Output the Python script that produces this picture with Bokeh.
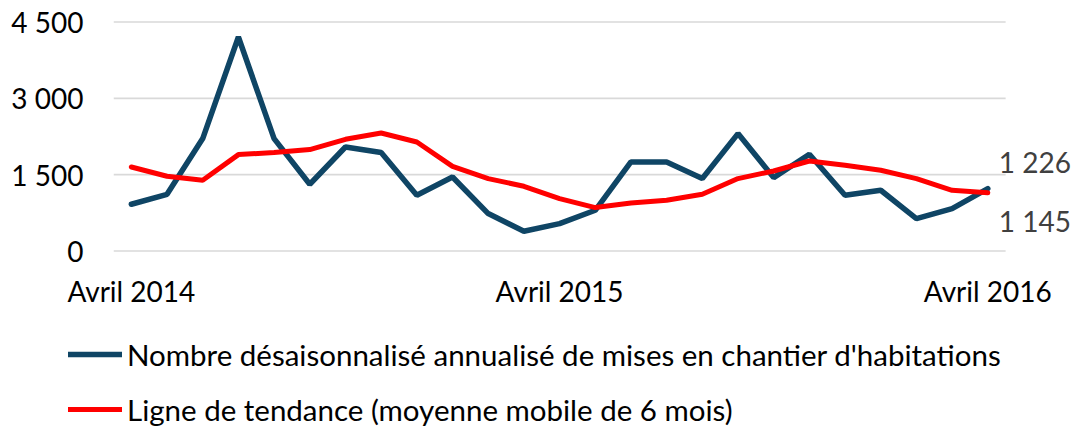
from bokeh.plotting import figure
from bokeh.layouts import column
from bokeh.models import (Range1d, FixedTicker, Legend, LegendItem, Label,
                          ColumnDataSource)
from bokeh.embed import file_html
from bokeh.resources import INLINE

# ---- data (monthly, Avril 2014 -> Avril 2016) ----
mises_en_chantier = [918, 1114, 2209, 4205, 2209, 1311, 2044, 1934, 1095, 1454,
                     735, 387, 538, 800, 1749, 1749, 1423, 2307, 1442, 1900,
                     1095, 1193, 637, 833, 1226]
moyenne_mobile = [1651, 1468, 1389, 1894, 1934, 1993, 2195, 2319, 2142, 1664,
                  1423, 1271, 1030, 853, 943, 996, 1114, 1423, 1572, 1769,
                  1684, 1586, 1423, 1193, 1145]
x_tick_labels = ["Avril 2014", "Avril 2015", "Avril 2016"]
y_ticks = [0, 1500, 3000, 4500]
y_tick_labels = ["0", "1 500", "3 000", "4 500"]
legend_labels = ["Nombre désaisonnalisé annualisé de mises en chantier d'habitations",
                 "Ligne de tendance (moyenne mobile de 6 mois)"]
end_labels = ["1 226", "1 145"]

n = len(mises_en_chantier)
months = list(range(n))
source = ColumnDataSource(dict(x=months, a=mises_en_chantier, b=moyenne_mobile))

FONT = "Lato"
BLUE = "#0F4565"
RED = "#FF0000"

# ---------------- main chart ----------------
# frame extends past the last category to leave room for the end labels
p = figure(width=1074, height=320, output_backend="svg", toolbar_location=None,
           x_range=Range1d(-0.5, n - 0.5 + 1.93), y_range=Range1d(-30, 4530),
           min_border_left=113, min_border_right=0, min_border_top=20,
           min_border_bottom=68)
p.frame_align = False
p.outline_line_color = None
p.background_fill_color = "white"
p.border_fill_color = "white"

# horizontal grid lines, limited to the category span
p.xgrid.grid_line_color = None
p.ygrid.grid_line_color = None
p.segment(x0=[-0.5] * len(y_ticks), x1=[n - 0.5] * len(y_ticks),
          y0=y_ticks, y1=y_ticks, line_color="#D9D9D9", line_width=1.6)

# y axis
p.yaxis.ticker = FixedTicker(ticks=y_ticks)
p.yaxis.major_label_overrides = {t: l for t, l in zip(y_ticks, y_tick_labels)}
p.yaxis.axis_line_color = None
p.yaxis.major_tick_line_color = None
p.yaxis.minor_tick_line_color = None
p.yaxis.major_tick_in = 0
p.yaxis.major_tick_out = 0
p.yaxis.major_label_standoff = 30
p.yaxis.major_label_text_font = FONT
p.yaxis.major_label_text_font_size = "28px"
p.yaxis.major_label_text_color = "#000000"

# x axis
x_ticks = [0, (n - 1) // 2, n - 1]
p.xaxis.ticker = FixedTicker(ticks=x_ticks)
p.xaxis.major_label_overrides = {t: l for t, l in zip(x_ticks, x_tick_labels)}
p.xaxis.axis_line_color = None
p.xaxis.major_tick_line_color = None
p.xaxis.minor_tick_line_color = None
p.xaxis.major_tick_in = 0
p.xaxis.major_tick_out = 0
p.xaxis.major_label_standoff = 21
p.xaxis.major_label_text_font = FONT
p.xaxis.major_label_text_font_size = "28px"
p.xaxis.major_label_text_color = "#000000"

p.line("x", "a", source=source, line_color=BLUE, line_width=5.5, line_cap="round")
p.line("x", "b", source=source, line_color=RED, line_width=5, line_cap="round")

# end-point labels
lab1 = Label(x=months[-1], y=mises_en_chantier[-1], text=end_labels[0],
             x_offset=11, y_offset=27, text_baseline="alphabetic",
             text_font=FONT, text_font_size="28px", text_color="#404040")
lab2 = Label(x=months[-1], y=moyenne_mobile[-1], text=end_labels[1],
             x_offset=11, y_offset=-28, text_baseline="alphabetic",
             text_font=FONT, text_font_size="28px", text_color="#404040")
p.add_layout(lab1)
p.add_layout(lab2)

# ---------------- legend strip ----------------
# same series, drawn out of view: only their legend swatches are visible
q = figure(width=1074, height=107, output_backend="svg", toolbar_location=None,
           x_axis_type=None, y_axis_type=None,
           x_range=Range1d(-0.5, n - 0.5), y_range=Range1d(100000, 100001),
           min_border_left=0, min_border_right=0, min_border_top=0,
           min_border_bottom=0)
q.frame_align = False
q.outline_line_color = None
q.grid.grid_line_color = None
lb = q.line("x", "a", source=source, line_color=BLUE, line_width=5.5, line_cap="round")
lr = q.line("x", "b", source=source, line_color=RED, line_width=5, line_cap="round")

legend = Legend(items=[LegendItem(label=legend_labels[0], renderers=[lb]),
                       LegendItem(label=legend_labels[1], renderers=[lr])],
                location=(68, 0), orientation="vertical",
                padding=0, margin=0, spacing=19,
                glyph_width=54, glyph_height=36, label_height=36,
                label_standoff=5,
                label_text_font=FONT, label_text_font_size="29.5px",
                label_text_color="#000000",
                border_line_color=None, background_fill_alpha=0)
q.add_layout(legend, "center")

open("out.html", "w").write(file_html(column(p, q, spacing=0), INLINE))
